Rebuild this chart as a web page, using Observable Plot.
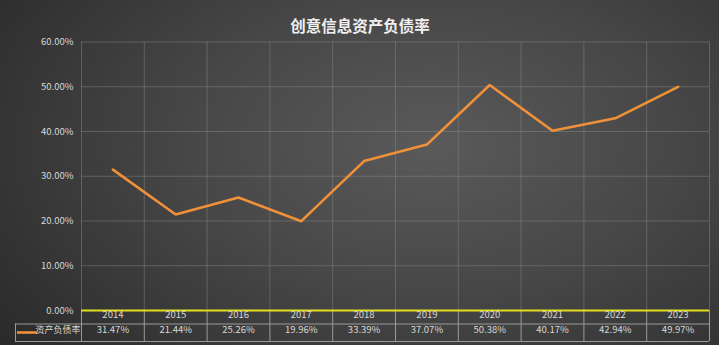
<!DOCTYPE html>
<html><head><meta charset="utf-8">
<script src="https://cdn.jsdelivr.net/npm/d3@7"></script>
<script src="https://cdn.jsdelivr.net/npm/@observablehq/plot@0.6"></script>
<style>
html,body{margin:0;padding:0;width:719px;height:345px;overflow:hidden;}
body{background:radial-gradient(ellipse 75% 95% at 60% 42%, #5a5a5a 0%, #474747 45%, #2a2a2a 100%);}
svg{background:transparent !important;}
</style></head>
<body><div id="chart"></div>
<script>
const title = "创意信息资产负债率";
const seriesName = "资产负债率";
const years = [2014, 2015, 2016, 2017, 2018, 2019, 2020, 2021, 2022, 2023];
const values = [0.3147, 0.2144, 0.2526, 0.1996, 0.3339, 0.3707, 0.5038, 0.4017, 0.4294, 0.4997];
const yTicks = [0, 0.1, 0.2, 0.3, 0.4, 0.5, 0.6];

const data = years.map((y, i) => ({year: y, value: values[i]}));
const edges = [years[0] - 0.5, ...years.map(y => y + 0.5)];
const fmt = d3.format(".2%");
const font = "'Noto Sans CJK SC', 'Noto Sans', sans-serif";
const W = 719, H = 345, mL = 81, mR = 10, mT = 41.5, mB = 35;
const frameH = H - mT - mB;
const txt = "#d8d8d8";
const tableLine = "#9a9a9a";

const chart = Plot.plot({
  width: W, height: H,
  marginLeft: mL, marginRight: mR, marginTop: mT, marginBottom: mB,
  style: {background: "transparent", fontFamily: font},
  x: {type: "linear", domain: [edges[0], edges[edges.length - 1]], axis: null},
  y: {domain: [0, 0.6], ticks: yTicks, tickFormat: fmt, tickSize: 0, tickPadding: 8, label: null},
  marks: [
    Plot.axisY({ticks: yTicks, tickFormat: fmt, tickSize: 0, tickPadding: 8, fill: txt, fontSize: 9.5, label: null}),
    Plot.ruleY(yTicks.slice(1), {stroke: "#8c8c8c", strokeOpacity: 0.45, strokeWidth: 1}),
    Plot.ruleX(edges, {stroke: "#8c8c8c", strokeOpacity: 0.45, strokeWidth: 1}),
    // table vertical lines
    Plot.ruleX(edges, {stroke: tableLine, strokeWidth: 1, insetTop: frameH, insetBottom: -31}),
    Plot.ruleX([edges[0]], {stroke: tableLine, strokeWidth: 1, dx: -66, insetTop: frameH + 13.5, insetBottom: -31}),
    // table horizontal lines
    Plot.ruleY([0], {stroke: tableLine, strokeWidth: 1, dy: 13.5, insetLeft: -66}),
    Plot.ruleY([0], {stroke: tableLine, strokeWidth: 1, dy: 31, insetLeft: -66}),
    Plot.ruleY([0], {stroke: "#e4de1e", strokeWidth: 2.2}),
    // line
    Plot.line(data, {x: "year", y: "value", stroke: "#f0913a", strokeWidth: 2.6, strokeLinejoin: "miter"}),
    // table text
    Plot.text(data, {x: "year", frameAnchor: "bottom", dy: 7, text: d => String(d.year), fill: txt, fontSize: 9.5}),
    Plot.text(data, {x: "year", frameAnchor: "bottom", dy: 22.5, text: d => fmt(d.value), fill: txt, fontSize: 9.5}),
    Plot.ruleY([0], {stroke: "#f0913a", strokeWidth: 2.6, dy: 22, insetLeft: -64, insetRight: W - mR - mL - (-44)}),
    Plot.text([seriesName], {frameAnchor: "bottom-left", dx: -1, dy: 22.5, textAnchor: "end", fill: txt, fontSize: 9}),
    // title
    Plot.text([title], {frameAnchor: "top", dx: (W / 2) - (mL + (W - mL - mR) / 2), dy: -21.5, fill: "#f0f0f0", fontSize: 15.5, fontWeight: "bold"})
  ]
});
document.getElementById("chart").append(chart);
</script></body></html>
